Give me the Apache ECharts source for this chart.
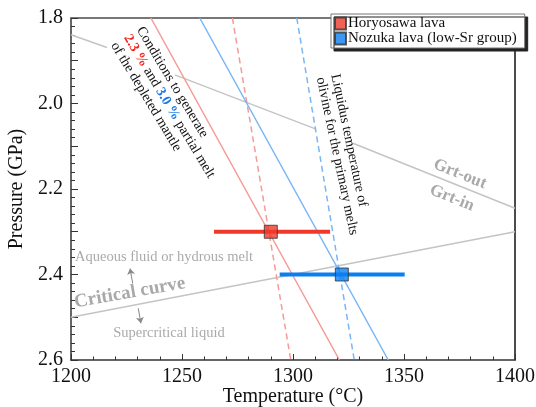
<!DOCTYPE html>
<html><head><meta charset="utf-8">
<script src="https://cdn.jsdelivr.net/npm/echarts@6/dist/echarts.min.js"></script>
<style>html,body{margin:0;padding:0;background:#fff}#c{width:536px;height:407px}</style>
</head><body><div id="c"></div>
<script>
// ---- data (temperature °C, pressure GPa) ----
const xTicks = [1200, 1250, 1300, 1350, 1400];
const yTicks = [1.8, 2.0, 2.2, 2.4, 2.6];
const seriesNames = ['Horyosawa lava', 'Nozuka lava (low-Sr group)'];
const horyosawa = [[1290, 2.30]];
const horyosawaRange = [[1264.4, 2.30], [1316.7, 2.30]];
const nozuka = [[1322, 2.40]];
const nozukaRange = [[1294, 2.40], [1350.3, 2.40]];
const melt23 = [[1236, 1.8], [1320.9, 2.6]];
const liquidusHory = [[1272.7, 1.8], [1299, 2.6]];
const melt30 = [[1258, 1.8], [1342.9, 2.6]];
const liquidusNoz = [[1301.7, 1.8], [1327.6, 2.6]];
const grtSeg1 = [[1200, 1.839], [1216.2, 1.869]];
const grtSeg2 = [[1246.8, 1.933], [1310.4, 2.06]];
const grtSeg3 = [[1327, 2.093], [1400, 2.245]];
const criticalCurve = [[1200, 2.50], [1400, 2.30]];
const arrowUp = [[1227.8, 2.421], [1226.6, 2.386]];
const arrowDown = [[1230.3, 2.479], [1231.5, 2.514]];
// annotation anchors (data coords)
const annConditions = [1233.8, 1.814];
const annLiquidus = [1322.2, 1.928];
const annGrtOut = [1375.2, 2.165];
const annGrtIn = [1371.6, 2.221];
const annCritical = [1226.5, 2.443];
const annAqueous = [1201.8, 2.359];
const annSuper = [1244.1, 2.537];

const SERIF = '"Liberation Serif", "DejaVu Serif", serif';
const RED = '#f0392b', BLUE = '#0a7ff2';
const RED_L = '#f59a94', BLUE_L = '#78b6f5', GRAY = '#c4c4c4';

const chart = echarts.init(document.getElementById('c'), null, {renderer: 'canvas'});

function lineSeries(data, color, width, dashed, z) {
  return {type: 'line', data: data, showSymbol: false, symbol: 'none', silent: true, z: z,
    lineStyle: {color: color, width: width, type: dashed ? [6, 4] : 'solid', cap: 'butt'},
    animation: false};
}

const option = {
  animation: false,
  backgroundColor: '#fff',
  grid: {left: 71, right: 21, top: 18, bottom: 47, containLabel: false, outerBoundsMode: 'none'},
  legend: {
    data: seriesNames, orient: 'vertical', left: 331, top: 14,
    padding: [2, 8, 2, 3], itemGap: 0, itemWidth: 11, itemHeight: 12, icon: 'rect',
    backgroundColor: '#fff', borderColor: '#777', borderWidth: 1,
    shadowColor: '#222', shadowOffsetX: 3, shadowOffsetY: 3, shadowBlur: 0,
    textStyle: {fontFamily: SERIF, fontSize: 15, lineHeight: 15, color: '#111', padding: [0, 0, 0, -3]},
    z: 20
  },
  xAxis: [{
    type: 'value', min: 1200, max: 1400, interval: 50, position: 'bottom',
    name: 'Temperature (°C)', nameLocation: 'middle', nameGap: 27, nameMoveOverlap: false,
    nameTextStyle: {fontFamily: SERIF, fontSize: 20, color: '#111'},
    axisLine: {show: true, onZero: false, lineStyle: {color: '#333', width: 1.5}},
    axisTick: {show: true, inside: true, length: 6, lineStyle: {color: '#333', width: 1}},
    minorTick: {show: true, splitNumber: 5, length: 3.5, lineStyle: {color: '#333', width: 1}},
    axisLabel: {fontFamily: SERIF, fontSize: 20, color: '#111', margin: 7,
      formatter: v => xTicks.includes(v) ? String(v) : ''},
    splitLine: {show: false}
  }, {
    type: 'value', min: 1200, max: 1400, position: 'top',
    axisLine: {show: true, onZero: false, lineStyle: {color: '#777', width: 2}},
    axisTick: {show: false}, axisLabel: {show: false}, splitLine: {show: false}
  }],
  yAxis: [{
    type: 'value', inverse: true, min: 1.8, max: 2.6, interval: 0.1,
    name: 'Pressure (GPa)', nameLocation: 'middle', nameGap: 44, nameMoveOverlap: false,
    nameTextStyle: {fontFamily: SERIF, fontSize: 20, color: '#111'},
    axisLine: {show: true, onZero: false, lineStyle: {color: '#333', width: 1.5}},
    axisTick: {show: true, inside: true, length: 7, lineStyle: {color: '#333', width: 1}},
    minorTick: {show: true, splitNumber: 5, length: 4, lineStyle: {color: '#333', width: 1}},
    axisLabel: {fontFamily: SERIF, fontSize: 20, color: '#111', margin: 8,
      formatter: v => {
        const hit = yTicks.find(t => Math.abs(t - v) < 1e-6);
        return hit !== undefined ? hit.toFixed(1) : '';
      }},
    splitLine: {show: false}
  }, {
    type: 'value', inverse: true, min: 1.8, max: 2.6, position: 'right',
    axisLine: {show: true, onZero: false, lineStyle: {color: '#111', width: 1.5}},
    axisTick: {show: false}, axisLabel: {show: false}, splitLine: {show: false}
  }],
  series: [
    lineSeries(grtSeg1, GRAY, 1.5, false, 1),
    lineSeries(grtSeg2, GRAY, 1.5, false, 1),
    lineSeries(grtSeg3, GRAY, 1.5, false, 1),
    lineSeries(criticalCurve, GRAY, 1.5, false, 1),
    lineSeries(melt23, RED_L, 1.5, false, 3),
    lineSeries(liquidusHory, RED_L, 1.5, true, 3),
    lineSeries(melt30, BLUE_L, 1.5, false, 3),
    lineSeries(liquidusNoz, BLUE_L, 1.5, true, 3),
    lineSeries(horyosawaRange, RED, 4, false, 4),
    lineSeries(nozukaRange, BLUE, 4, false, 4),
    {type: 'lines', coordinateSystem: 'cartesian2d', silent: true, z: 3,
      symbol: ['none', 'arrow'], symbolSize: 6,
      lineStyle: {color: '#888', width: 1, opacity: 1},
      data: [{coords: arrowUp}, {coords: arrowDown}]},
    {type: 'scatter', name: seriesNames[0], data: horyosawa, symbol: 'rect', symbolSize: 13, z: 6,
      itemStyle: {color: RED, borderColor: '#333', borderWidth: 1}},
    {type: 'scatter', name: seriesNames[1], data: nozuka, symbol: 'rect', symbolSize: 13, z: 6,
      itemStyle: {color: BLUE, borderColor: '#333', borderWidth: 1}}
  ]
};
chart.setOption(option);

function px(p) { return chart.convertToPixel({xAxisIndex: 0, yAxisIndex: 0}, p); }
const deg = Math.PI / 180;
function txt(anchor, text, opts) {
  const p = px(anchor);
  return Object.assign({type: 'text', x: p[0], y: p[1], rotation: (opts.rot || 0) * deg, z: 10, silent: true,
    style: Object.assign({text: text, fontFamily: SERIF, fontSize: 14, fill: '#111',
      align: 'left', verticalAlign: 'top'}, opts.style || {})});
}
const grayBold = {fontWeight: 'bold', fill: '#a9a9a9', align: 'center', verticalAlign: 'middle'};
chart.setOption({
  graphic: [
    txt(annConditions, 'Conditions to generate\n{r|2.3 %} and {b|3.0 %} partial melt\nof the depleted mantle',
      {rot: -59, style: {lineHeight: 15, rich: {
        r: {fill: '#f2231b', fontWeight: 'bold', fontFamily: SERIF, fontSize: 14, lineHeight: 15},
        b: {fill: '#1a78e8', fontWeight: 'bold', fontFamily: SERIF, fontSize: 14, lineHeight: 15}}}}),
    txt(annLiquidus, 'Liquidus temperature of\nolivine for the primary melts', {rot: -78, style: {lineHeight: 15}}),
    txt(annGrtOut, 'Grt-out', {rot: -22, style: Object.assign({fontSize: 17}, grayBold)}),
    txt(annGrtIn, 'Grt-in', {rot: -22, style: Object.assign({fontSize: 17}, grayBold)}),
    txt(annCritical, 'Critical curve', {rot: 10, style: Object.assign({fontSize: 19}, grayBold)}),
    txt(annAqueous, 'Aqueous fluid or hydrous melt', {style: {fontSize: 14.5, fill: '#aaa', verticalAlign: 'middle'}}),
    txt(annSuper, 'Supercritical liquid', {style: {fontSize: 14.5, fill: '#aaa', align: 'center', verticalAlign: 'middle'}})
  ]
});
</script>
</body></html>
